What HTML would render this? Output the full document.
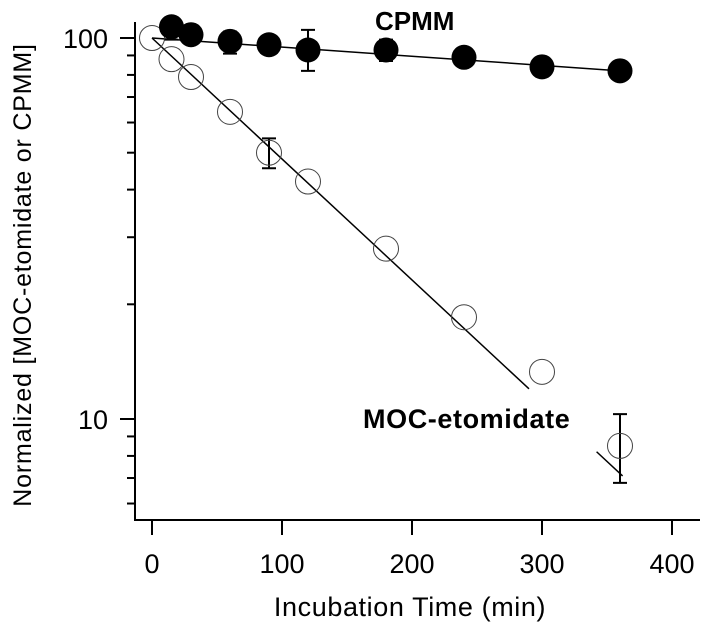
<!DOCTYPE html>
<html><head><meta charset="utf-8"><style>
body{margin:0;background:#fff}
text{font-family:"Liberation Sans",sans-serif}
</style></head><body>
<svg id="chart" width="714" height="631" xmlns="http://www.w3.org/2000/svg"></svg>
<script>
const times = [0,15,30,60,90,120,180,240,300,360];
const mocValues = [100,88,79,64,50,42,28,18.5,13.3,8.5];
const cpmmTimes = [15,30,60,90,120,180,240,300,360];
const cpmmValues = [107,102,98,96,93,93,89,84,82];
const mocErrors = [{t:90,v:50,lo:45.5,hi:54.5},{t:360,v:8.5,lo:6.8,hi:10.3}];
const cpmmErrors = [{t:15,v:107,lo:99,hi:109},{t:60,v:98,lo:91,hi:104},{t:120,v:93,lo:82,hi:105},{t:180,v:93,lo:87,hi:99}];
const xTicks = [0,100,200,300,400];
const yMajor = [10,100];
const yMinor = [6,7,8,9,20,30,40,50,60,70,80,90];

const svg = document.getElementById('chart');
const NS = 'http://www.w3.org/2000/svg';
function X(t){return 152 + t*1.3;}
function Y(v){return 419 - (Math.log10(v)-1)*381;}
function mk(tag, attrs, parent){const e=document.createElementNS(NS,tag);for(const k in attrs)e.setAttribute(k,attrs[k]);(parent||svg).appendChild(e);return e;}

const ax = mk('path',{d:'M135 22 V520 H700',fill:'none',stroke:'#000','stroke-width':2});


xTicks.forEach(t=>{
  const l=mk('line',{x1:X(t),x2:X(t),y1:520,y2:535,stroke:'#000','stroke-width':2});
  
  
  const tx=mk('text',{x:X(t),y:573,'text-anchor':'middle','font-size':27});
  tx.textContent=t;
  
  
});
yMajor.forEach(v=>{
  const l=mk('line',{x1:120,x2:135,y1:Y(v),y2:Y(v),stroke:'#000','stroke-width':2});
  
  
  const tx=mk('text',{x:108,y:Y(v)+10,'text-anchor':'end','font-size':27});
  tx.textContent=v;
  
  
});
yMinor.forEach(v=>{
  const l=mk('line',{x1:127,x2:135,y1:Y(v),y2:Y(v),stroke:'#000','stroke-width':2});
  
  
});
const k = Math.log(100/12)/290;
const f1=mk('line',{x1:X(0),y1:Y(100),x2:X(290),y2:Y(100*Math.exp(-k*290)),stroke:'#000','stroke-width':1.5});


const f2=mk('line',{x1:X(342),y1:Y(100*Math.exp(-k*342)),x2:X(362),y2:Y(100*Math.exp(-k*362)),stroke:'#000','stroke-width':1.5});


const f3=mk('line',{x1:X(0),y1:Y(100),x2:X(360),y2:Y(82),stroke:'#000','stroke-width':1.5});



function errBar(e,name){
  const g=mk('path',{d:`M${X(e.t)} ${Y(e.hi)}V${Y(e.lo)}M${X(e.t)-7} ${Y(e.hi)}h14M${X(e.t)-7} ${Y(e.lo)}h14`,stroke:'#000','stroke-width':2,fill:'none'});
  
  
}
mocErrors.forEach(e=>errBar(e,'moc-error-bar'));
times.forEach((t,i)=>{
  const c=mk('circle',{cx:X(t),cy:Y(mocValues[i]),r:12.5,fill:'none',stroke:'#444','stroke-width':1});
  
  
});
cpmmErrors.forEach(e=>errBar(e,'cpmm-error-bar'));
cpmmTimes.forEach((t,i)=>{
  const c=mk('circle',{cx:X(t),cy:Y(cpmmValues[i]),r:12.5,fill:'#000'});
  
  
});
</script>
<svg width="714" height="631" style="position:absolute;left:0;top:0" xmlns="http://www.w3.org/2000/svg">
<text x="375" y="30" font-size="26" font-weight="bold" font-family="Liberation Sans, sans-serif">CPMM</text>
<text x="363" y="428" font-size="27" font-weight="bold" letter-spacing="0.6" font-family="Liberation Sans, sans-serif">MOC-etomidate</text>
<text x="410" y="616" font-size="27" letter-spacing="0.6" text-anchor="middle" font-family="Liberation Sans, sans-serif">Incubation Time (min)</text>
<text transform="translate(31,275) rotate(-90)" font-size="25" letter-spacing="0.8" text-anchor="middle" font-family="Liberation Sans, sans-serif">Normalized [MOC-etomidate or CPMM]</text>
</svg>
</body></html>
